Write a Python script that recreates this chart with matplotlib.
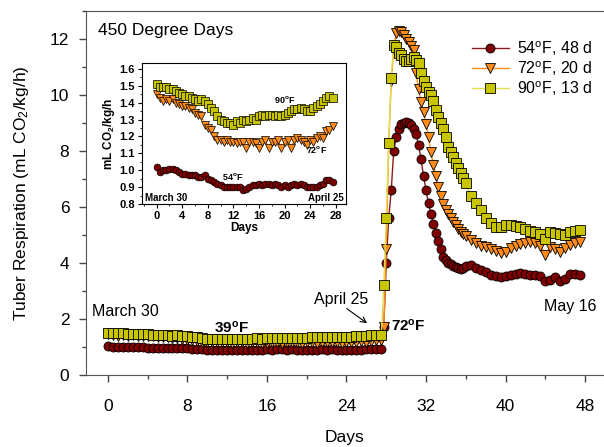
import matplotlib
matplotlib.use("Agg")
import matplotlib.pyplot as plt
from matplotlib.ticker import MultipleLocator

plt.rcParams['font.family'] = ['Liberation Sans', 'DejaVu Sans']
plt.rcParams['mathtext.fontset'] = 'custom'
plt.rcParams['mathtext.rm'] = 'Liberation Sans'
plt.rcParams['mathtext.bf'] = 'Liberation Sans:bold'
plt.rcParams['mathtext.it'] = 'Liberation Sans:italic'

# storage days (March 30 = day 0), 39F storage up to April 25, then 72F
days = [0.0, 0.5, 1.0, 1.5, 2.0, 2.5, 3.0, 3.5, 4.0, 4.5, 5.0, 5.5, 6.0, 6.5,
        7.0, 7.5, 8.0, 8.5, 9.0, 9.5, 10.0, 10.5, 11.0, 11.5, 12.0, 12.5, 13.0,
        13.5, 14.0, 14.5, 15.0, 15.5, 16.0, 16.5, 17.0, 17.5, 18.0, 18.5, 19.0,
        19.5, 20.0, 20.5, 21.0, 21.5, 22.0, 22.5, 23.0, 23.5, 24.0, 24.5, 25.0,
        25.5, 26.0, 26.5, 27.0, 27.5,
        27.75, 28.0, 28.25, 28.5, 28.75, 29.0, 29.25, 29.5, 29.75, 30.0, 30.25,
        30.5, 30.75, 31.0, 31.25, 31.5, 31.75, 32.0, 32.25, 32.5, 32.75, 33.0,
        33.25, 33.5, 33.75, 34.0, 34.25, 34.5, 34.75, 35.0, 35.25, 35.5, 35.75,
        36.0, 36.5, 37.0, 37.5, 38.0, 38.5, 39.0, 39.5, 40.0, 40.5, 41.0, 41.5,
        42.0, 42.5, 43.0, 43.5, 44.0, 44.5, 45.0, 45.5, 46.0, 46.5, 47.0, 47.5]
n_base = 56  # points up to April 25 (shown in the inset)

resp_54 = [1.02, 0.99, 1.00, 1.00, 1.01, 1.01, 1.00, 0.99, 0.98, 0.98, 0.97,
           0.97, 0.97, 0.96, 0.96, 0.97, 0.95, 0.94, 0.93, 0.92, 0.91, 0.90,
           0.90, 0.90, 0.90, 0.90, 0.90, 0.88, 0.89, 0.90, 0.91, 0.91, 0.92,
           0.91, 0.92, 0.92, 0.91, 0.92, 0.91, 0.90, 0.91, 0.90, 0.91, 0.92,
           0.91, 0.92, 0.91, 0.90, 0.90, 0.90, 0.90, 0.91, 0.92, 0.94, 0.94,
           0.93,
           1.7, 4.0, 5.6, 6.6, 8.0, 8.5, 8.8, 8.95, 9.0, 9.02, 9.0, 8.93, 8.8,
           8.6, 8.2, 7.7, 7.1, 6.6, 6.13, 5.75, 5.4, 5.06, 4.8, 4.5, 4.22, 4.1,
           4.0, 3.95, 3.9, 3.85, 3.82, 3.8, 3.82, 3.88,
           3.92, 3.82, 3.74, 3.67, 3.57, 3.53, 3.5, 3.53, 3.57, 3.6, 3.63, 3.6,
           3.57, 3.58, 3.55, 3.35, 3.4, 3.5, 3.35, 3.42, 3.6, 3.62, 3.57]

resp_72 = [1.45, 1.43, 1.41, 1.42, 1.41, 1.42, 1.40, 1.39, 1.38, 1.38, 1.37,
           1.36, 1.34, 1.33, 1.32, 1.27, 1.25, 1.24, 1.20, 1.18, 1.18, 1.17,
           1.18, 1.17, 1.17, 1.16, 1.17, 1.17, 1.13, 1.17, 1.17, 1.16, 1.13,
           1.17, 1.18, 1.13, 1.17, 1.17, 1.18, 1.13, 1.17, 1.18, 1.13, 1.18,
           1.19, 1.18, 1.17, 1.15, 1.18, 1.17, 1.19, 1.20, 1.19, 1.23, 1.24,
           1.26,
           1.7, 4.5, 8.3, 10.5, 11.6, 12.2, 12.3, 12.25, 12.15, 12.0, 11.9,
           11.75, 11.6, 10.8, 10.2, 9.76, 9.4, 8.95, 8.5, 7.95, 7.5, 7.1, 6.7,
           6.4, 6.1, 5.9, 5.75, 5.6, 5.47, 5.35, 5.2, 5.1, 5.02, 4.95,
           4.82, 4.7, 4.62, 4.58, 4.5, 4.42, 4.35, 4.4, 4.55, 4.62, 4.68, 4.72,
           4.76, 4.7, 4.62, 4.3, 4.58, 4.5, 4.4, 4.55, 4.65, 4.7, 4.76]

resp_90 = [1.51, 1.49, 1.49, 1.49, 1.48, 1.48, 1.47, 1.46, 1.45, 1.44, 1.44,
           1.43, 1.42, 1.41, 1.42, 1.41, 1.39, 1.37, 1.35, 1.32, 1.30, 1.29,
           1.28, 1.28, 1.27, 1.29, 1.28, 1.30, 1.29, 1.30, 1.31, 1.30, 1.32,
           1.33, 1.32, 1.33, 1.33, 1.32, 1.33, 1.32, 1.33, 1.34, 1.35, 1.36,
           1.36, 1.37, 1.36, 1.35, 1.35, 1.37, 1.38, 1.39, 1.41, 1.43, 1.44,
           1.43,
           3.2, 5.6, 8.3, 10.6, 11.8, 11.7, 11.5, 11.43, 11.27, 11.2, 11.2,
           11.3, 11.37, 11.25, 11.13, 10.77, 10.5, 10.3, 10.1, 10.0, 9.8, 9.46,
           9.2, 9.0, 8.8, 8.5, 8.15, 7.95, 7.78, 7.56, 7.4, 7.2, 7.05, 6.85,
           6.4, 6.13, 5.9, 5.62, 5.42, 5.3, 5.3, 5.34, 5.36, 5.32, 5.28, 5.22,
           5.16, 5.1, 5.04, 4.85, 5.12, 5.08, 5.02, 5.0, 5.1, 5.15, 5.18]

labels = ['54$^{\\mathrm{o}}$F, 48 d', '72$^{\\mathrm{o}}$F, 20 d', '90$^{\\mathrm{o}}$F, 13 d']

series = [
    (resp_54, 'o', '#7f0000', '#8b1a1a', 6.5),
    (resp_72, 'v', '#ff8c1a', '#ff8c1a', 7.5),
    (resp_90, 's', '#c8c400', '#e0dc50', 7.0),
]

fig = plt.figure(figsize=(6.04, 4.47), dpi=100)
ax = fig.add_axes([86 / 604, 72 / 447, 518 / 604, 364 / 447])

for (vals, mk, fc, lc, ms), lab in zip(series, labels):
    ax.plot(days, vals, color=lc, lw=1.0, marker=mk, ms=ms, mfc=fc,
            mec='black', mew=0.6, label=lab)

ax.set_xlim(-2.2, 49.9)
ax.set_ylim(0, 13)
ax.xaxis.set_major_locator(MultipleLocator(8))
ax.xaxis.set_minor_locator(MultipleLocator(4))
ax.yaxis.set_major_locator(MultipleLocator(2))
ax.yaxis.set_minor_locator(MultipleLocator(1))
ax.tick_params(which='major', direction='out', length=5, width=1, labelsize=12.5,
               color='#444444')
ax.tick_params(which='minor', direction='out', length=3, width=1, color='#444444')
ax.tick_params(axis='x', which='major', pad=12)
ax.tick_params(axis='y', which='major', pad=7)
for s in ['left', 'bottom', 'top']:
    ax.spines[s].set_color('#555555')
ax.spines['right'].set_visible(False)
ax.set_xlabel('Days', fontsize=12.5, labelpad=12)
ax.set_ylabel('Tuber Respiration (mL CO$_2$/kg/h)', fontsize=12.5, labelpad=14)

ax.text(-1.0, 12.3, '450 Degree Days', fontsize=12.5, va='center', ha='left')
ax.text(-1.6, 2.25, 'March 30', fontsize=11.5, va='center', ha='left')
ax.text(12.45, 1.68, '39$^{\\mathbf{o}}$F', fontsize=11, fontweight='bold',
        va='center', ha='center')
ax.text(23.5, 2.71, 'April 25', fontsize=11.5, va='center', ha='center')
ax.annotate('', xy=(26.3, 1.79), xytext=(23.8, 2.43),
            arrowprops=dict(arrowstyle='->', lw=0.8, color='black'))
ax.text(28.5, 1.75, '72$^{\\mathbf{o}}$F', fontsize=11, fontweight='bold',
        va='center', ha='left')
ax.text(46.5, 2.43, 'May 16', fontsize=11.5, va='center', ha='center')

ax.legend(loc='upper left', bbox_to_anchor=(472 / 604, 1 - 39 / 447),
          bbox_transform=fig.transFigure, frameon=False, fontsize=11.5,
          handlelength=2.3, handletextpad=0.5, labelspacing=0.1, borderpad=0,
          borderaxespad=0)

# inset: the 39F storage period
ins = fig.add_axes([142 / 604, 1 - 204 / 447, 204 / 604, 141 / 447])
for vals, mk, fc, lc, ms in series:
    ins.plot(days[:n_base], vals[:n_base], color=lc, lw=0.8, marker=mk,
             ms=ms * 0.75, mfc=fc, mec='black', mew=0.5)
ins.set_xlim(-2.3, 29.6)
ins.set_ylim(0.8, 1.635)
ins.xaxis.set_major_locator(MultipleLocator(4))
ins.xaxis.set_minor_locator(MultipleLocator(2))
ins.yaxis.set_major_locator(MultipleLocator(0.1))
ins.yaxis.set_minor_locator(MultipleLocator(0.05))
ins.tick_params(which='major', direction='out', length=3, labelsize=8, pad=2)
ins.tick_params(which='minor', direction='out', length=1.5)
for t in ins.get_xticklabels() + ins.get_yticklabels():
    t.set_fontweight('bold')
ins.set_xlabel('Days', fontsize=8.5, fontweight='bold', labelpad=1)
ins.set_ylabel('mL CO$_\\mathbf{2}$/kg/h', fontsize=8.5, fontweight='bold', labelpad=2)
ins.text(-1.8, 0.835, 'March 30', fontsize=7, fontweight='bold', va='center')
ins.text(29.2, 0.835, 'April 25', fontsize=7, fontweight='bold', va='center', ha='right')
ins.text(20, 1.42, '90$^{\\mathbf{o}}$F', fontsize=6.5, fontweight='bold', ha='center', va='center')
ins.text(25, 1.12, '72$^{\\mathbf{o}}$F', fontsize=6.5, fontweight='bold', ha='center', va='center')
ins.text(11.9, 0.96, '54$^{\\mathbf{o}}$F', fontsize=6.5, fontweight='bold', ha='center', va='center')

fig.savefig('out.png', dpi=100)
